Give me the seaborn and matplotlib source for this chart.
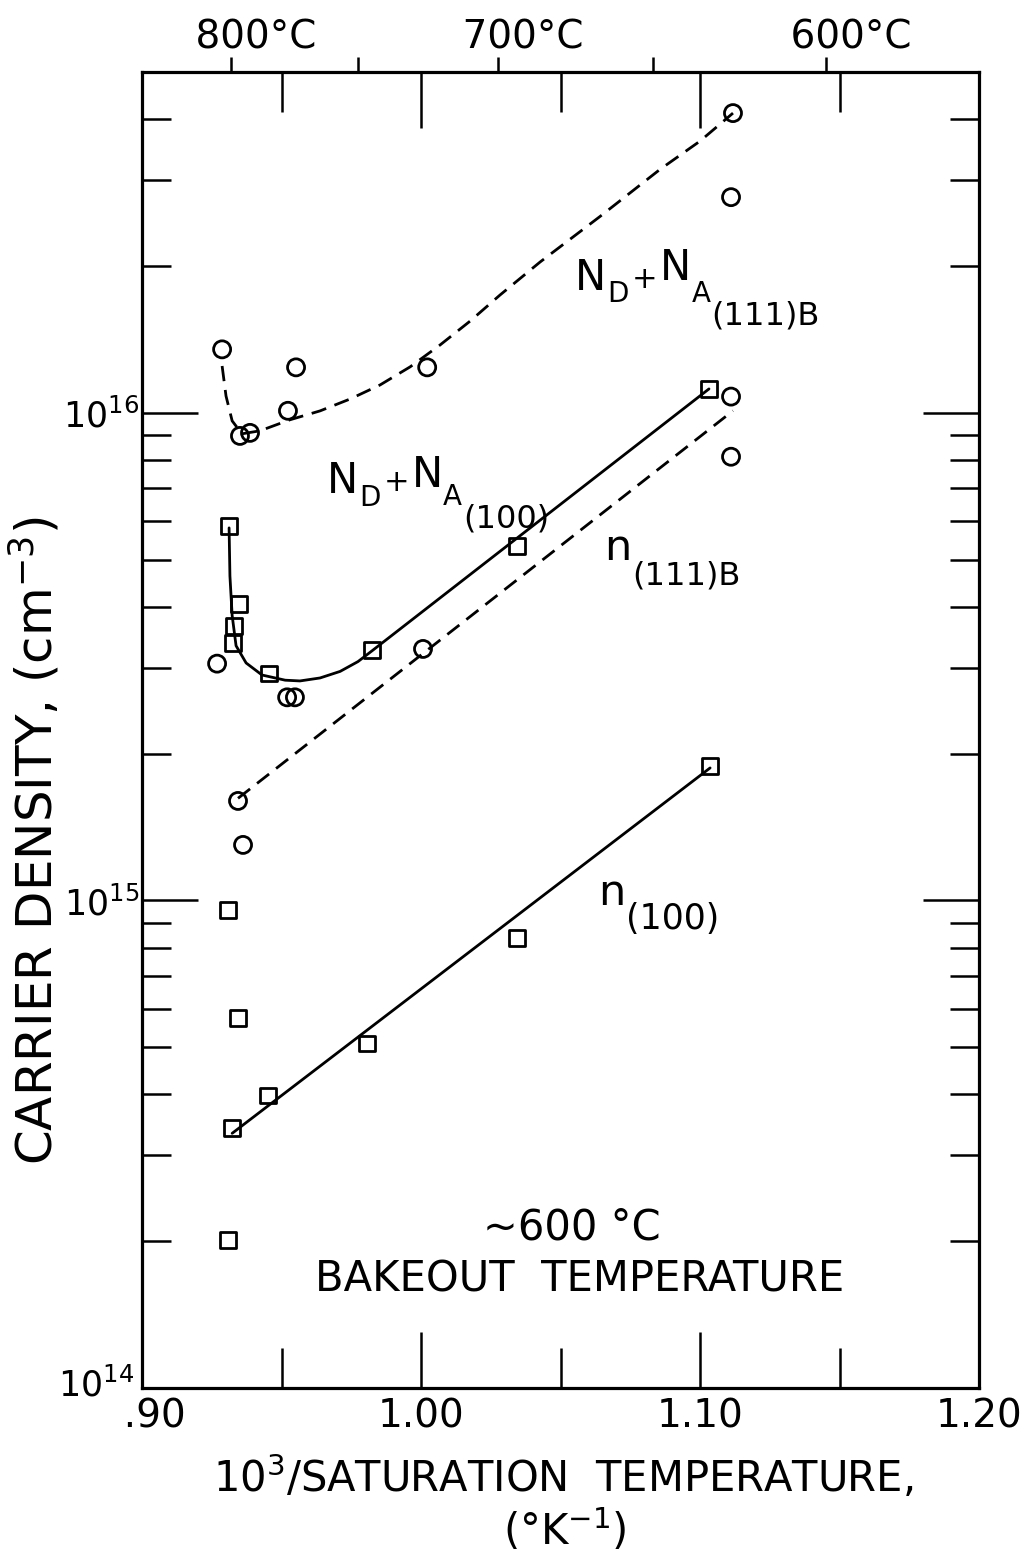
import numpy as np
import pandas as pd
import matplotlib
matplotlib.use("Agg")
import matplotlib.pyplot as plt
import seaborn as sns
from matplotlib.ticker import FixedLocator, FuncFormatter, NullFormatter

# ---------------- data ----------------
# N_D + N_A (111)B  -- circles
nd111_x = [0.9287, 0.9351, 0.9387, 0.9523, 0.9552, 1.0022, 1.1118, 1.1111]
nd111_y = [1.35e16, 8.97e15, 9.1e15, 1.01e16, 1.24e16, 1.24e16, 4.12e16, 2.77e16]
# dashed hand-drawn curve for N_D + N_A (111)B
nd111_curve_x = [0.9287, 0.9301, 0.9323, 0.9358, 0.9423, 0.9530, 0.9638, 0.9746,
                 0.9853, 0.9961, 1.0068, 1.0176, 1.0283, 1.0427, 1.0642, 1.0857,
                 1.1000, 1.1118]
nd111_curve_y = [1.248e16, 1.083e16, 9.63e15, 9.06e15, 9.19e15, 9.68e15, 1.0095e16,
                 1.068e16, 1.141e16, 1.243e16, 1.378e16, 1.543e16, 1.745e16,
                 2.04e16, 2.53e16, 3.16e16, 3.61e16, 4.12e16]

# open circles lying around the N_D+N_A(100) curve
mid_circ_x = [0.9269, 0.9520, 0.9548, 1.0007, 1.1111, 1.1111]
mid_circ_y = [3.06e15, 2.61e15, 2.61e15, 3.28e15, 1.08e16, 8.13e15]

# N_D + N_A (100)  -- squares
nd100_x = [0.9312, 0.9348, 0.9330, 0.9326, 0.9455, 0.9824, 1.0344, 1.1032]
nd100_y = [5.87e15, 4.06e15, 3.66e15, 3.38e15, 2.92e15, 3.27e15, 5.33e15, 1.12e16]
# solid hand-drawn curve for N_D + N_A (100)
nd100_curve_x = [0.9312, 0.9315, 0.9323, 0.9337, 0.9373, 0.9430, 0.9513, 0.9566,
                 0.9638, 0.9710, 0.9774, 0.9824, 1.1032]
nd100_curve_y = [5.81e15, 4.63e15, 3.84e15, 3.33e15, 3.07e15, 2.90e15, 2.83e15,
                 2.82e15, 2.86e15, 2.95e15, 3.09e15, 3.25e15, 1.12e16]

# n (111)B -- circles + dashed line
n111_x = [0.9344, 0.9362]
n111_y = [1.60e15, 1.30e15]
n111_line_x = [0.9344, 1.1118]
n111_line_y = [1.62e15, 1.01e16]

# n (100) -- squares + solid line
n100_x = [0.9308, 0.9344, 0.9323, 0.9452, 0.9806, 1.0344, 1.1036, 0.9308]
n100_y = [9.55e14, 5.75e14, 3.41e14, 3.98e14, 5.09e14, 8.39e14, 1.89e15, 2.01e14]
n100_line_x = [0.9323, 1.1036]
n100_line_y = [3.33e14, 1.87e15]

x_major = [0.90, 1.00, 1.10, 1.20]
x_major_labels = ["  .90", "1.00", "1.10", "1.20"]
x_minor = [0.95, 1.05, 1.15]
y_major = [1e14, 1e15, 1e16]
y_major_labels = ["", r"10$^{15}$", r"10$^{16}$"]
y_minor = [m * 10.0 ** e for e in (14, 15, 16) for m in range(2, 10) if m * 10.0 ** e <= 5e16]
top_major_C = [800, 700, 600]
top_major_labels = ["    800°C", "    700°C", "    600°C"]
top_minor_C = [750, 650]

# ---------------- figure ----------------
sns.set_style("white")
plt.rcParams["font.family"] = ["DejaVu Sans"]
plt.rcParams["mathtext.fontset"] = "dejavusans"
for k in ("text.color", "axes.labelcolor", "xtick.color", "ytick.color",
          "xtick.labelcolor", "ytick.labelcolor"):
    plt.rcParams[k] = "black"

fig = plt.figure(figsize=(10.33, 15.54), dpi=100)
ax = fig.add_axes([0.1375, 0.1068, 0.8103, 0.8468])

lw_line = 2.0
dash = (0, (5.5, 3.2))


def line(x, y, dashed):
    df = pd.DataFrame({"x": x, "y": y})
    sns.lineplot(data=df, x="x", y="y", ax=ax, sort=False, estimator=None,
                 color="black", lw=lw_line)
    ln = ax.lines[-1]
    ln.set_solid_joinstyle("round")
    if dashed:
        ln.set_linestyle(dash)


line(nd111_curve_x, nd111_curve_y, True)
line(nd100_curve_x, nd100_curve_y, False)
line(n111_line_x, n111_line_y, True)
line(n100_line_x, n100_line_y, False)


def pts(x, y, marker, size):
    df = pd.DataFrame({"x": x, "y": y})
    sns.scatterplot(data=df, x="x", y="y", ax=ax, marker=marker, s=size,
                    color="black", zorder=5)
    coll = ax.collections[-1]
    coll.set_facecolor("none")
    coll.set_edgecolor("black")
    coll.set_linewidth(2.0)


pts(nd111_x, nd111_y, "o", 150)
pts(mid_circ_x, mid_circ_y, "o", 150)
pts(n111_x, n111_y, "o", 150)
pts(nd100_x, nd100_y, "s", 130)
pts(n100_x, n100_y, "s", 130)

ax.set_yscale("log")
ax.set_xlim(0.90, 1.20)
ax.set_ylim(1e14, 5e16)
ax.set_xlabel("")
ax.set_ylabel("")

for s in ax.spines.values():
    s.set_linewidth(2.3)
    s.set_color("black")

ax.xaxis.set_major_locator(FixedLocator(x_major))
ax.xaxis.set_major_formatter(FuncFormatter(lambda v, p: x_major_labels[int(round((v - 0.90) / 0.10))]))
ax.xaxis.set_minor_locator(FixedLocator(x_minor))
ax.yaxis.set_major_locator(FixedLocator(y_major))
ax.yaxis.set_major_formatter(FuncFormatter(lambda v, p: y_major_labels[int(round(np.log10(v))) - 14]))
ax.yaxis.set_minor_locator(FixedLocator(y_minor))
ax.yaxis.set_minor_formatter(NullFormatter())

ax.tick_params(axis="x", which="major", direction="in", length=40, width=1.8,
               top=True, bottom=True, labelsize=28, pad=7)
ax.tick_params(axis="x", which="minor", direction="in", length=29, width=1.8,
               top=True, bottom=True)
ax.tick_params(axis="y", which="major", direction="in", length=40, width=1.8,
               left=True, right=True, labelsize=25, pad=2)
ax.tick_params(axis="y", which="minor", direction="in", length=21, width=1.8,
               left=True, right=True)

# 10^14 label at the bottom-left corner, kept clear of the ".90" label
ax.annotate(r"10$^{14}$", xy=(0.0, 0.0), xycoords="axes fraction",
            xytext=(-8, 3), textcoords="offset pixels", fontsize=25,
            ha="right", va="center")

# top Celsius axis
sec = ax.secondary_xaxis("top", functions=(lambda x: 1000.0 / np.asarray(x, float) - 273.15,
                                            lambda c: 1000.0 / (np.asarray(c, float) + 273.15)))
sec.xaxis.set_major_locator(FixedLocator(top_major_C))
sec.xaxis.set_major_formatter(FuncFormatter(
    lambda v, p: top_major_labels[top_major_C.index(int(round(v)))] if int(round(v)) in top_major_C else ""))
sec.xaxis.set_minor_locator(FixedLocator(top_minor_C))
sec.tick_params(axis="x", which="both", direction="out", length=11, width=1.8,
                labelsize=28, pad=0)
sec.spines["top"].set_visible(False)

# hand-lettered labels with large, lowered subscripts
renderer = fig.canvas.get_renderer()


def lettered(x0, y0, pieces):
    """pieces: (text, fontsize, gap_px, dy_px); anchor is left-baseline in axes fraction."""
    dx = 0.0
    for txt, size, gap, dy in pieces:
        dx += gap
        t = ax.annotate(txt, xy=(x0, y0), xycoords="axes fraction",
                        xytext=(dx, dy), textcoords="offset pixels",
                        fontsize=size, ha="left", va="baseline", color="black")
        dx += t.get_window_extent(renderer).width


lettered(0.5173, 0.8343, [("N", 30, 0, 0), ("D", 20, 1, -12), ("+", 22, 3, 2),
                          ("N", 30, 3, 10), ("A", 20, 0, -12), ("(111)B", 23, 1, -34)])
lettered(0.2210, 0.6800, [("N", 30, 0, 0), ("D", 20, 1, -13), ("+", 22, 3, 2),
                          ("N", 30, 3, 6), ("A", 20, 0, -12), ("(100)", 23, 1, -34)])
lettered(0.5520, 0.6290, [("n", 31, 0, 0), ("(111)B", 23, 1, -24)])
lettered(0.5450, 0.3670, [("n", 31, 0, 0), ("(100)", 25, 1, -24)])

ax.text(0.514, 0.1125, "~600 °C", transform=ax.transAxes, fontsize=30,
        ha="center", va="baseline")
ax.text(0.523, 0.073, "BAKEOUT  TEMPERATURE", transform=ax.transAxes, fontsize=30,
        ha="center", va="baseline")

# axis labels
fig.text(0.545, 1 - 1492 / 1554, r"10$^\mathregular{3}$/SATURATION  TEMPERATURE,",
         fontsize=30, ha="center", va="baseline")
fig.text(0.547, 1 - 1545 / 1554, r"(°K$^\mathregular{-1}$)", fontsize=30,
         ha="center", va="baseline")
fig.text(0.034, 0.459, r"CARRIER DENSITY, (cm$^\mathregular{-3}$)", fontsize=36,
         rotation=90, ha="center", va="center")

fig.savefig("out.png", dpi=100)
